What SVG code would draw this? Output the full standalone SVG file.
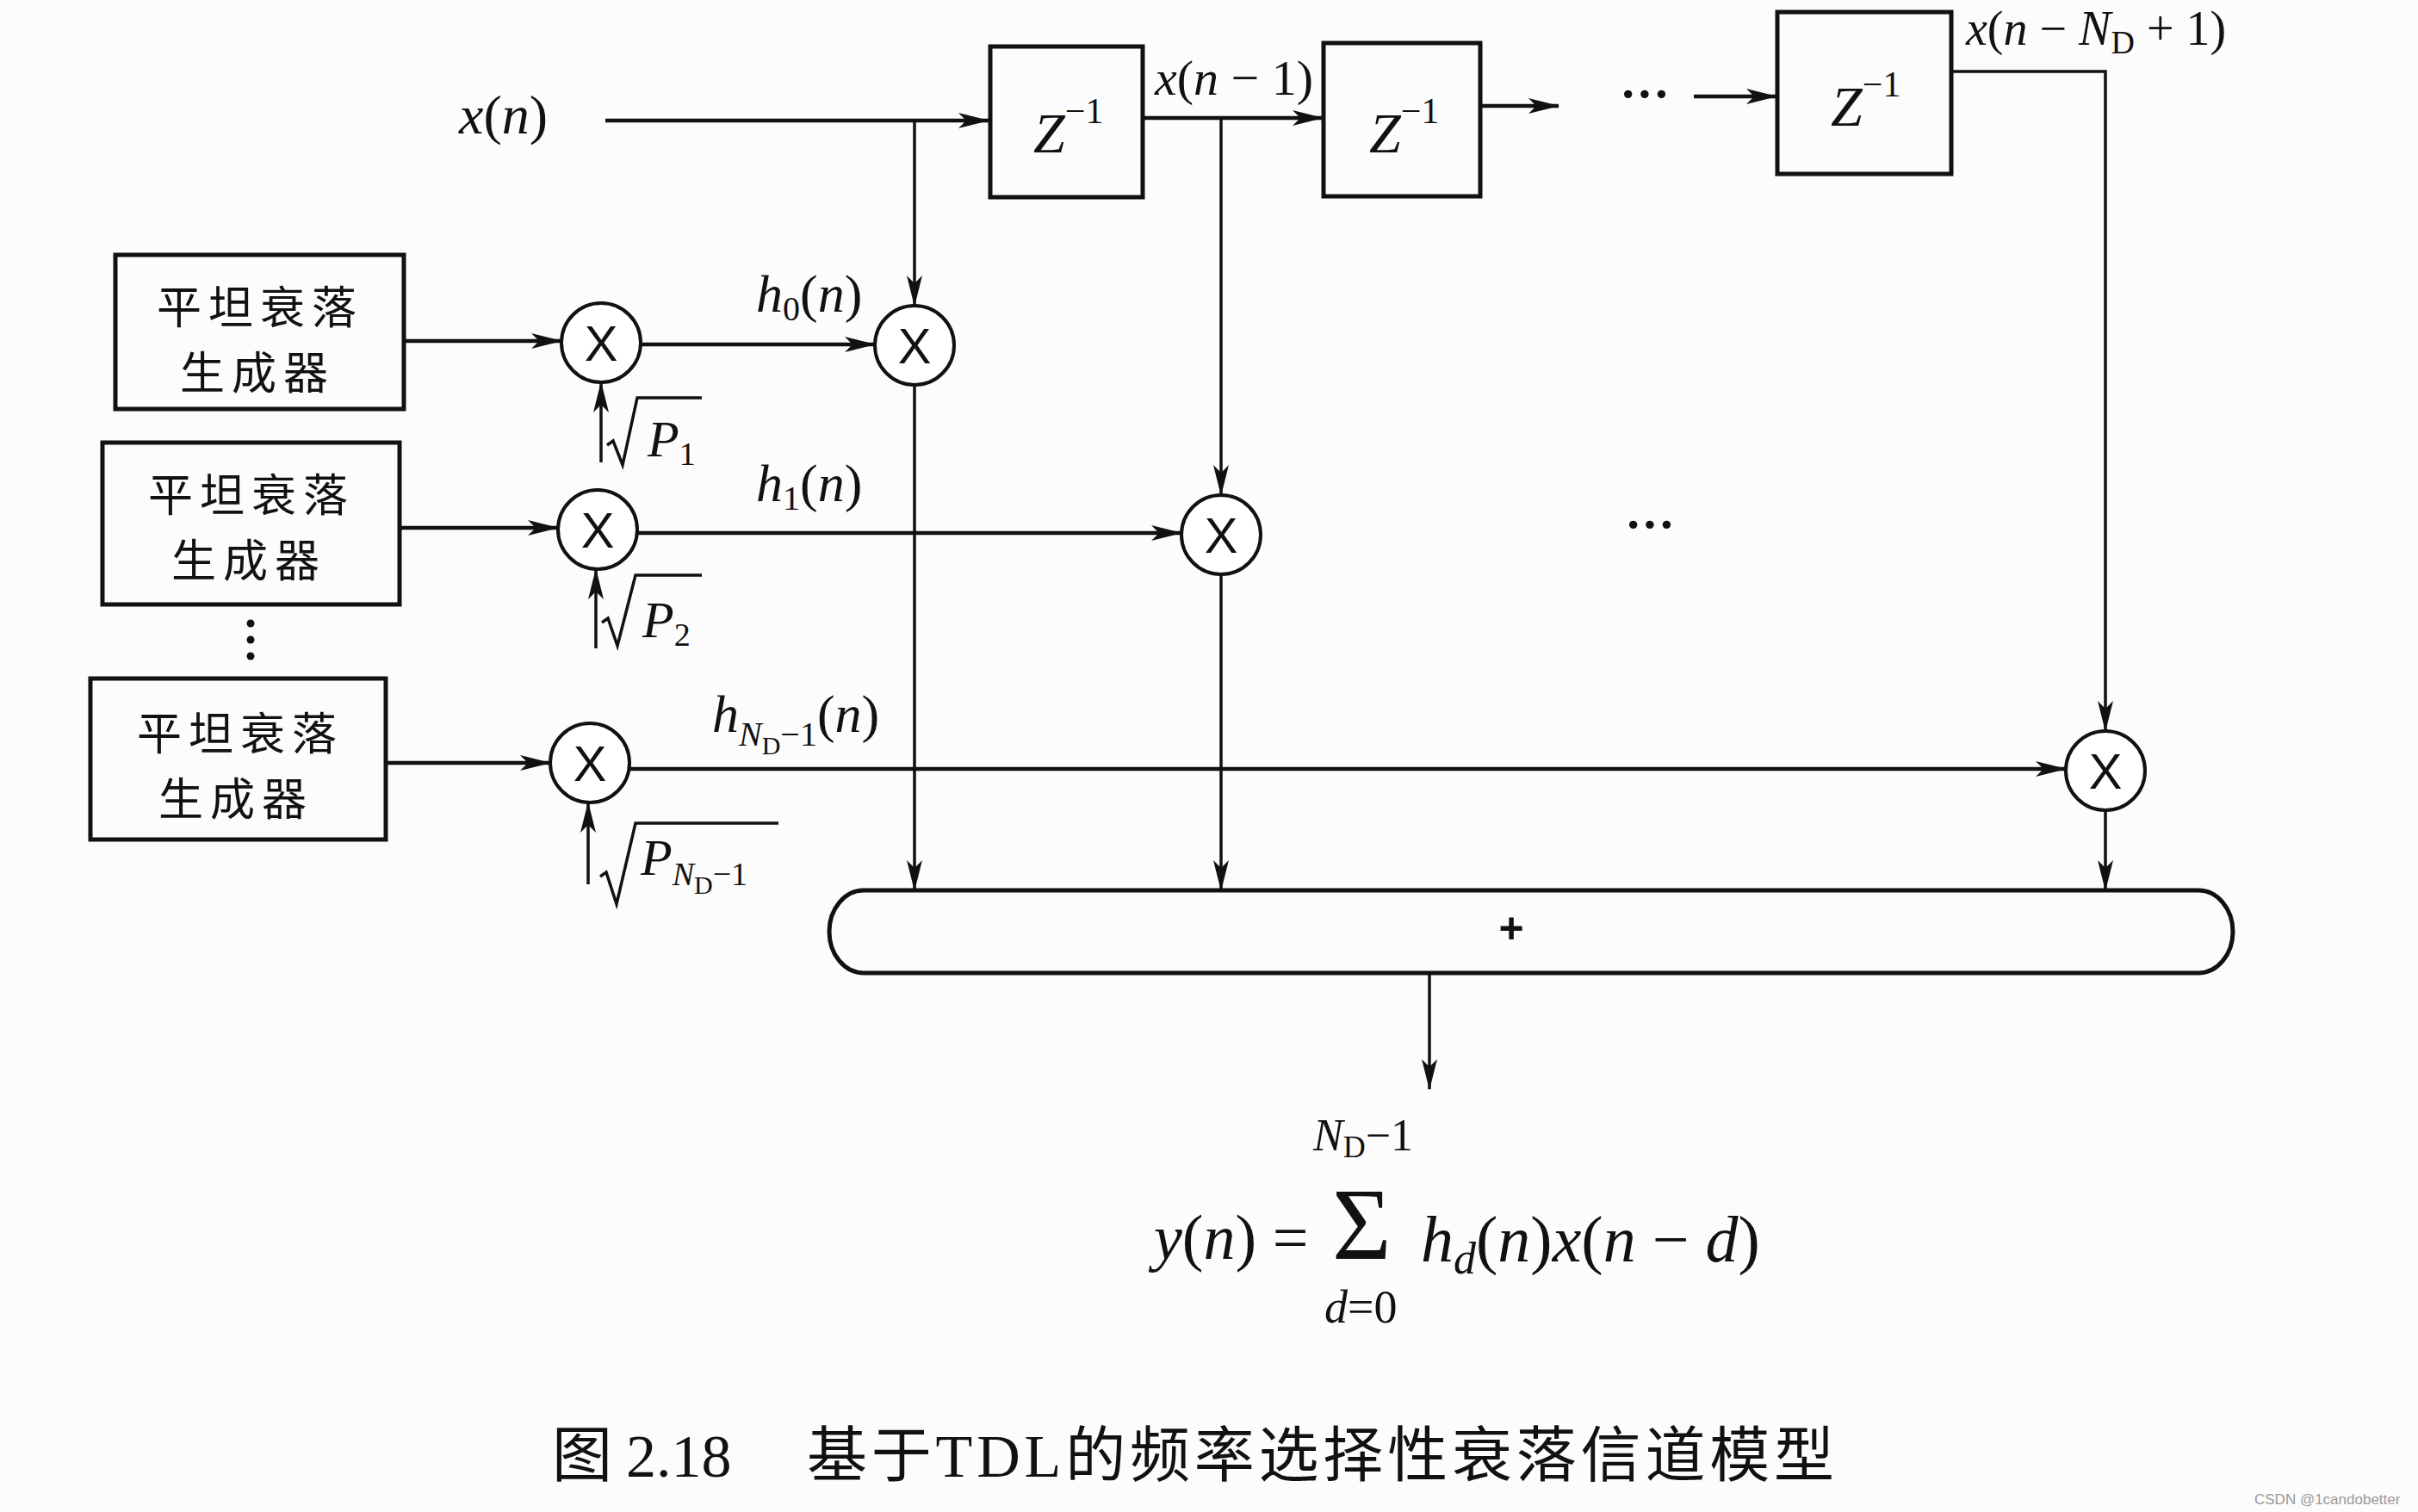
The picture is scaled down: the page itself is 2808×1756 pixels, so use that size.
<svg xmlns="http://www.w3.org/2000/svg" width="2808" height="1756" viewBox="0 0 2808 1756">
<style>
.bx{fill:none;stroke:#111;stroke-width:5}
.ci{fill:#fff;stroke:#111;stroke-width:4}
.ln{fill:none;stroke:#111;stroke-width:4.5}
.vl{fill:none;stroke:#111;stroke-width:3.5}
.rad{fill:none;stroke:#111;stroke-width:3.5;stroke-linejoin:miter}
.m{font-family:"Liberation Serif",serif;fill:#111}
.i{font-style:italic}
.cn{font-family:"Noto Sans CJK SC",sans-serif;font-size:52px;fill:#111;text-anchor:middle;letter-spacing:8px}
.x{font-family:"Liberation Sans",sans-serif;fill:#111;text-anchor:middle}
</style>
<defs>
<marker id="ah" markerUnits="userSpaceOnUse" markerWidth="36" markerHeight="20" viewBox="0 0 36 20" refX="35" refY="10" orient="auto">
<path d="M0,1 L36,10 L0,19 L9,10 z" fill="#111"/>
</marker>
</defs>
<rect width="2808" height="1756" fill="#fcfcfc"/>

<g id="connectors">
<line class="ln" x1="703" y1="140" x2="1148" y2="140" marker-end="url(#ah)"/>
<line class="ln" x1="1327" y1="137" x2="1536" y2="137" marker-end="url(#ah)"/>
<line class="ln" x1="1719" y1="123" x2="1810" y2="123" marker-end="url(#ah)"/>
<line class="ln" x1="1967" y1="112" x2="2063" y2="112" marker-end="url(#ah)"/>
<polyline class="vl" points="2265,83 2445,83 2445,849" marker-end="url(#ah)"/>
<line class="vl" x1="1062" y1="140" x2="1062" y2="355" marker-end="url(#ah)"/>
<line class="vl" x1="1062" y1="447" x2="1062" y2="1034" marker-end="url(#ah)"/>
<line class="vl" x1="1418" y1="137" x2="1418" y2="575" marker-end="url(#ah)"/>
<line class="vl" x1="1418" y1="667" x2="1418" y2="1034" marker-end="url(#ah)"/>
<line class="vl" x1="2445" y1="941" x2="2445" y2="1034" marker-end="url(#ah)"/>
<line class="ln" x1="469" y1="396" x2="652" y2="396" marker-end="url(#ah)"/>
<line class="ln" x1="464" y1="613" x2="648" y2="613" marker-end="url(#ah)"/>
<line class="ln" x1="448" y1="886" x2="639" y2="886" marker-end="url(#ah)"/>
<line class="ln" x1="744" y1="400" x2="1016" y2="400" marker-end="url(#ah)"/>
<line class="ln" x1="740" y1="619" x2="1372" y2="619" marker-end="url(#ah)"/>
<line class="ln" x1="731" y1="893" x2="2399" y2="893" marker-end="url(#ah)"/>
<line class="vl" x1="698" y1="537" x2="698" y2="444" marker-end="url(#ah)"/>
<line class="vl" x1="692" y1="753" x2="692" y2="661" marker-end="url(#ah)"/>
<line class="vl" x1="683" y1="1027" x2="683" y2="932" marker-end="url(#ah)"/>
<line class="vl" x1="1660" y1="1130" x2="1660" y2="1265" marker-end="url(#ah)"/>
</g>

<g id="label-xn"><text class="m" x="533" y="155" style="font-size:64px"><tspan class="i">x</tspan>(<tspan class="i">n</tspan>)</text></g>
<g id="label-xn1"><text class="m" x="1341" y="110" style="font-size:58px"><tspan class="i">x</tspan>(<tspan class="i">n</tspan> − 1)</text></g>
<g id="label-xnd"><text class="m" x="2283" y="52" style="font-size:56px"><tspan class="i">x</tspan>(<tspan class="i">n</tspan> − <tspan class="i">N</tspan><tspan style="font-size:38px" dy="10">D</tspan><tspan dy="-10"> + 1)</tspan></text></g>

<g id="delay1"><rect class="bx" x="1150" y="54" width="177" height="175"/><text class="m" x="1200" y="177" style="font-size:66px"><tspan class="i">Z</tspan><tspan style="font-size:42px" dy="-34">−1</tspan></text></g>
<g id="delay2"><rect class="bx" x="1537" y="50" width="182" height="178"/><text class="m" x="1590" y="177" style="font-size:66px"><tspan class="i">Z</tspan><tspan style="font-size:42px" dy="-34">−1</tspan></text></g>
<g id="dots-top"><text class="m" x="1910" y="128" text-anchor="middle" font-weight="bold" style="font-size:58px">···</text></g>
<g id="delay3"><rect class="bx" x="2064" y="14" width="202" height="188"/><text class="m" x="2126" y="146" style="font-size:66px"><tspan class="i">Z</tspan><tspan style="font-size:42px" dy="-34">−1</tspan></text></g>

<g id="gen1"><rect class="bx" x="134" y="296" width="335" height="179"/><text class="cn" x="302" y="376">平坦衰落<tspan x="299" dy="76">生成器</tspan></text></g>
<g id="gen2"><rect class="bx" x="119" y="514" width="345" height="188"/><text class="cn" x="292" y="594">平坦衰落<tspan x="289" dy="76">生成器</tspan></text></g>
<g id="gen-dots"><circle cx="291" cy="724" r="4.5" fill="#111"/><circle cx="291" cy="743" r="4.5" fill="#111"/><circle cx="291" cy="762" r="4.5" fill="#111"/></g>
<g id="gen3"><rect class="bx" x="105" y="788" width="343" height="187"/><text class="cn" x="279" y="871">平坦衰落<tspan x="274" dy="76">生成器</tspan></text></g>

<g id="mul1"><circle class="ci" cx="698" cy="398" r="46"/><text class="x" x="698" y="419" style="font-size:58px">X</text></g>
<g id="mul2"><circle class="ci" cx="694" cy="615" r="46"/><text class="x" x="694" y="636" style="font-size:58px">X</text></g>
<g id="mul3"><circle class="ci" cx="685" cy="886" r="46"/><text class="x" x="685" y="907" style="font-size:58px">X</text></g>
<g id="tap0"><circle class="ci" cx="1062" cy="401" r="46"/><text class="x" x="1062" y="422" style="font-size:58px">X</text></g>
<g id="tap1"><circle class="ci" cx="1418" cy="621" r="46"/><text class="x" x="1418" y="642" style="font-size:58px">X</text></g>
<g id="tapN"><circle class="ci" cx="2445" cy="895" r="46"/><text class="x" x="2445" y="916" style="font-size:58px">X</text></g>

<g id="label-sqrtP1"><polyline class="rad" points="705,517 712,512 723,540 740,462 815,462"/><text class="m" x="752" y="530" style="font-size:60px"><tspan class="i">P</tspan><tspan style="font-size:38px" dy="10">1</tspan></text></g>
<g id="label-sqrtP2"><polyline class="rad" points="699,723 706,718 717,750 738,668 815,668"/><text class="m" x="746" y="740" style="font-size:60px"><tspan class="i">P</tspan><tspan style="font-size:38px" dy="10">2</tspan></text></g>
<g id="label-sqrtPN"><polyline class="rad" points="697,1018 704,1013 716,1050 738,956 904,956"/><text class="m" x="744" y="1016" style="font-size:60px"><tspan class="i">P</tspan><tspan class="i" style="font-size:38px" dy="12">N</tspan><tspan style="font-size:30px" dy="10">D</tspan><tspan style="font-size:38px" dy="-10">−1</tspan></text></g>

<g id="label-h0"><text class="m" x="878" y="362" style="font-size:62px"><tspan class="i">h</tspan><tspan style="font-size:40px" dy="10">0</tspan><tspan dy="-10">(</tspan><tspan class="i">n</tspan>)</text></g>
<g id="label-h1"><text class="m" x="878" y="582" style="font-size:62px"><tspan class="i">h</tspan><tspan style="font-size:40px" dy="10">1</tspan><tspan dy="-10">(</tspan><tspan class="i">n</tspan>)</text></g>
<g id="label-hN"><text class="m" x="827" y="850" style="font-size:62px"><tspan class="i">h</tspan><tspan class="i" style="font-size:40px" dy="16">N</tspan><tspan style="font-size:30px" dy="10">D</tspan><tspan style="font-size:40px" dy="-10">−1</tspan><tspan dy="-16">(</tspan><tspan class="i">n</tspan>)</text></g>
<g id="dots-mid"><text class="m" x="1916" y="628" text-anchor="middle" font-weight="bold" style="font-size:58px">···</text></g>

<g id="adder"><rect class="bx" x="963" y="1034" width="1630" height="96" rx="40" ry="48"/><text class="x" x="1755" y="1095" font-weight="bold" style="font-size:50px">+</text></g>

<g id="formula">
<text class="m" style="font-size:74px"><tspan x="1340" y="1462"><tspan class="i">y</tspan>(<tspan class="i">n</tspan>) =</tspan><tspan x="1547" y="1462" style="font-size:118px">Σ</tspan><tspan x="1525" y="1336" style="font-size:52px"><tspan class="i">N</tspan><tspan style="font-size:36px" dy="8">D</tspan><tspan dy="-8">−1</tspan></tspan><tspan x="1538" y="1536" style="font-size:54px"><tspan class="i">d</tspan>=0</tspan><tspan x="1650" y="1465" style="font-size:76px"><tspan class="i">h</tspan><tspan class="i" style="font-size:52px" dy="14">d</tspan><tspan dy="-14">(</tspan><tspan class="i">n</tspan>)<tspan class="i">x</tspan>(<tspan class="i">n</tspan> − <tspan class="i">d</tspan>)</tspan></text>
</g>

<g id="caption">
<text font-family="Liberation Serif, Noto Sans CJK SC, serif" font-size="70" fill="#111" y="1715"><tspan x="641">图</tspan><tspan x="727">2.18</tspan><tspan x="937" textLength="1193" lengthAdjust="spacing">基于TDL的频率选择性衰落信道模型</tspan></text>
</g>
<g id="watermark"><text x="2618" y="1747" font-family="Liberation Sans, sans-serif" font-size="17" fill="#999">CSDN @1candobetter</text></g>
</svg>
